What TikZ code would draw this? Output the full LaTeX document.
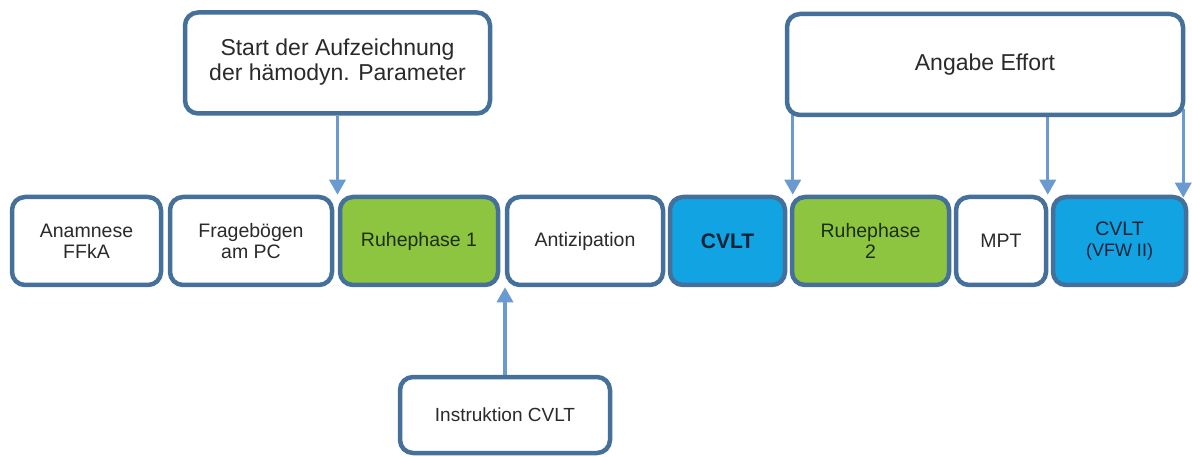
\documentclass[tikz,border=0pt]{standalone}
\usepackage{fontspec}
\setmainfont{Liberation Sans}
\usetikzlibrary{arrows.meta,calc,backgrounds}
\definecolor{bordc}{HTML}{44709A}
\definecolor{arrc}{HTML}{6A9AD0}
\definecolor{gfill}{HTML}{8DC540}
\definecolor{bfill}{HTML}{12A3E3}
\definecolor{txt}{HTML}{2A2A2A}
\definecolor{btxt}{HTML}{0C2336}
\definecolor{gtxt}{HTML}{1C2E10}
\begin{document}
\begin{tikzpicture}[x=1pt,y=-1pt,
  box/.style={draw=bordc, line width=4.5pt, rounded corners=13pt, align=center,
    inner sep=2pt, text=txt, font=\fontsize{19.5}{21}\selectfont,
    minimum height=88pt, fill=white},
  gbox/.style={box, fill=gfill, text=gtxt},
  bbox/.style={box, fill=bfill, text=btxt},
  arr/.style={draw=arrc, line width=3.3pt, -{Triangle[length=15pt,width=16pt]}}
]
\useasboundingbox (0,0) rectangle (1192,457);

% process row
\node[box,  minimum width=149pt] (anam)  at (86.5,241)  {Anamnese\\FFkA};
\node[box,  minimum width=162pt] (frag)  at (251,241)   {Fragebögen\\am PC};
\node[gbox, minimum width=158pt] (ruhe1) at (419,241)   {Ruhephase 1};
\node[box,  minimum width=156pt] (anti)  at (585,241)   {Antizipation};
\node[bbox, minimum width=115pt, font=\fontsize{21}{23}\selectfont\bfseries] (cvlt) at (727.5,241) {CVLT};
\node[gbox, minimum width=157pt] (ruhe2) at (870.5,241) {Ruhephase\\2};
\node[box,  minimum width=90pt]  (mpt)   at (1001,241)  {MPT};
\node[bbox, minimum width=133pt] (cvlt2) at (1119.5,241) {CVLT\\{\fontsize{18}{20}\selectfont(VFW II)}};

% annotation boxes
\node[box, minimum width=305pt, minimum height=101pt, font=\fontsize{23}{25}\selectfont] (start) at (337.5,63) {\raisebox{-4pt}{\begin{tabular}{@{}c@{}}Start der Aufzeichnung\\der hämodyn. Parameter\end{tabular}}};
\node[box, minimum width=396pt, minimum height=101pt, font=\fontsize{23}{25}\selectfont] (effort) at (985,64.5) {Angabe Effort};
\node[box, minimum width=210pt, minimum height=76pt, font=\fontsize{19}{21}\selectfont] (instr) at (505,415) {Instruktion CVLT};

\begin{scope}[on background layer]
  \draw[arr] (start.south) -- (start.south |- ruhe1.north);
  \draw[arr] (instr.north) -- (instr.north |- ruhe1.south);
  \coordinate (e1) at ($(effort.south west)+(8,-4)$);
  \coordinate (e2) at ($(effort.south west)+(263,-4)$);
  \coordinate (e3) at ($(effort.south east)+(-2,-8)$);
  \draw[arr] (e1) -- (e1 |- ruhe2.north);
  \draw[arr] (e2) -- (e2 |- cvlt2.north);
  \draw[arr] (e3) -- ($(e3 |- cvlt2.north)+(0,3)$);
\end{scope}
\end{tikzpicture}
\end{document}
